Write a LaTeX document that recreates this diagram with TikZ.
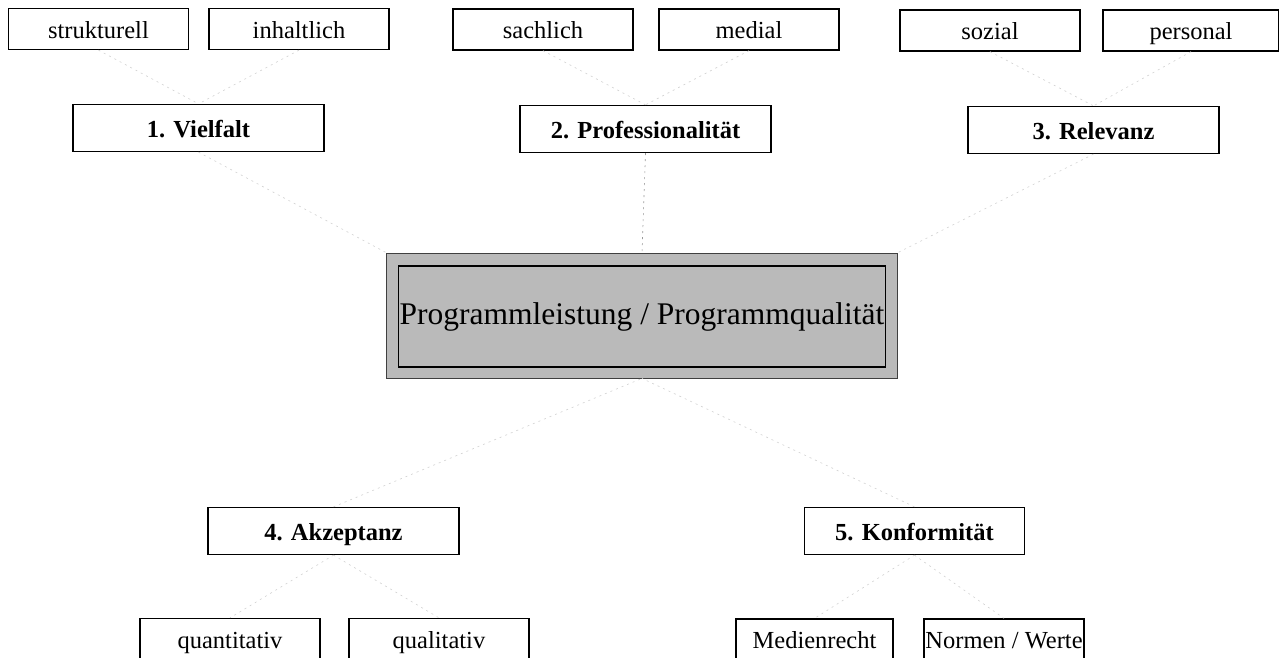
\documentclass[tikz,border=0pt]{standalone}
\usepackage{fontspec}
\setmainfont{Liberation Serif}
\begin{document}
\begin{tikzpicture}[x=1pt,y=-1pt,
  leaf/.style={draw, line width=1.3pt, minimum width=180pt, minimum height=41pt, inner sep=0pt, text height=18.5pt, text depth=0pt, font=\fontsize{24.5}{27}\selectfont},
  mainbox/.style={draw, line width=1.3pt, minimum width=251pt, minimum height=47pt, inner sep=0pt, text height=18.5pt, text depth=0pt, font=\fontsize{24.5}{27}\selectfont\bfseries},
  link/.style={draw=black!18, line width=0.6pt, dash pattern=on 2pt off 4pt}]
\useasboundingbox (0,0) rectangle (1279,658);
\clip (0,0) rectangle (1279,658);
% top row
\node[leaf] (s1) at (98.5,29) {strukturell};
\node[leaf] (s2) at (299,29) {inhaltlich};
\node[mainbox] (m1) at (198.5,128) {1. Vielfalt};
\node[leaf] (p1) at (543,29.5) {sachlich};
\node[leaf] (p2) at (749,29.5) {medial};
\node[mainbox] (m2) at (645.5,129) {2. Professionalit\"at};
\node[leaf] (r1) at (990,30.5) {sozial};
\node[leaf, minimum width=176pt] (r2) at (1191,30.5) {personal};
\node[mainbox] (m3) at (1093.5,130) {3. Relevanz};
% centre
\node[draw=black!75, line width=0.8pt, fill=black!27, minimum width=511pt, minimum height=125pt] (c) at (642,315.5) {};
\node[draw, line width=1.5pt, minimum width=487pt, minimum height=101pt, inner sep=0pt, font=\fontsize{31.5}{35}\selectfont] (ci) at (642,316.5) {Programmleistung / Programmqualit\"at};
% bottom row
\node[mainbox] (m4) at (333.5,531) {4. Akzeptanz};
\node[mainbox, minimum width=220pt] (m5) at (914.5,531) {5. Konformit\"at};
\node[leaf] (a1) at (230,639) {quantitativ};
\node[leaf] (a2) at (439,639) {qualitativ};
\node[leaf, minimum width=157pt] (k1) at (814.5,639.5) {Medienrecht};
\node[leaf, minimum width=160pt] (k2) at (1004,639.5) {Normen / Werte};
% connectors
\draw[link] (s1.south) -- (m1.north);
\draw[link] (s2.south) -- (m1.north);
\draw[link] (p1.south) -- (m2.north);
\draw[link] (p2.south) -- (m2.north);
\draw[link] (r1.south) -- (m3.north);
\draw[link] (r2.south) -- (m3.north);
\draw[link] (m1.south) -- (c.north west);
\draw[link, draw=black!40] (m2.south) -- (c.north);
\draw[link] (m3.south) -- (c.north east);
\draw[link] (m4.north) -- (c.south);
\draw[link] (m5.north) -- (c.south);
\draw[link] (m4.south) -- (a1.north);
\draw[link] (m4.south) -- (a2.north);
\draw[link] (m5.south) -- (k1.north);
\draw[link] (m5.south) -- (k2.north);
\end{tikzpicture}
\end{document}
